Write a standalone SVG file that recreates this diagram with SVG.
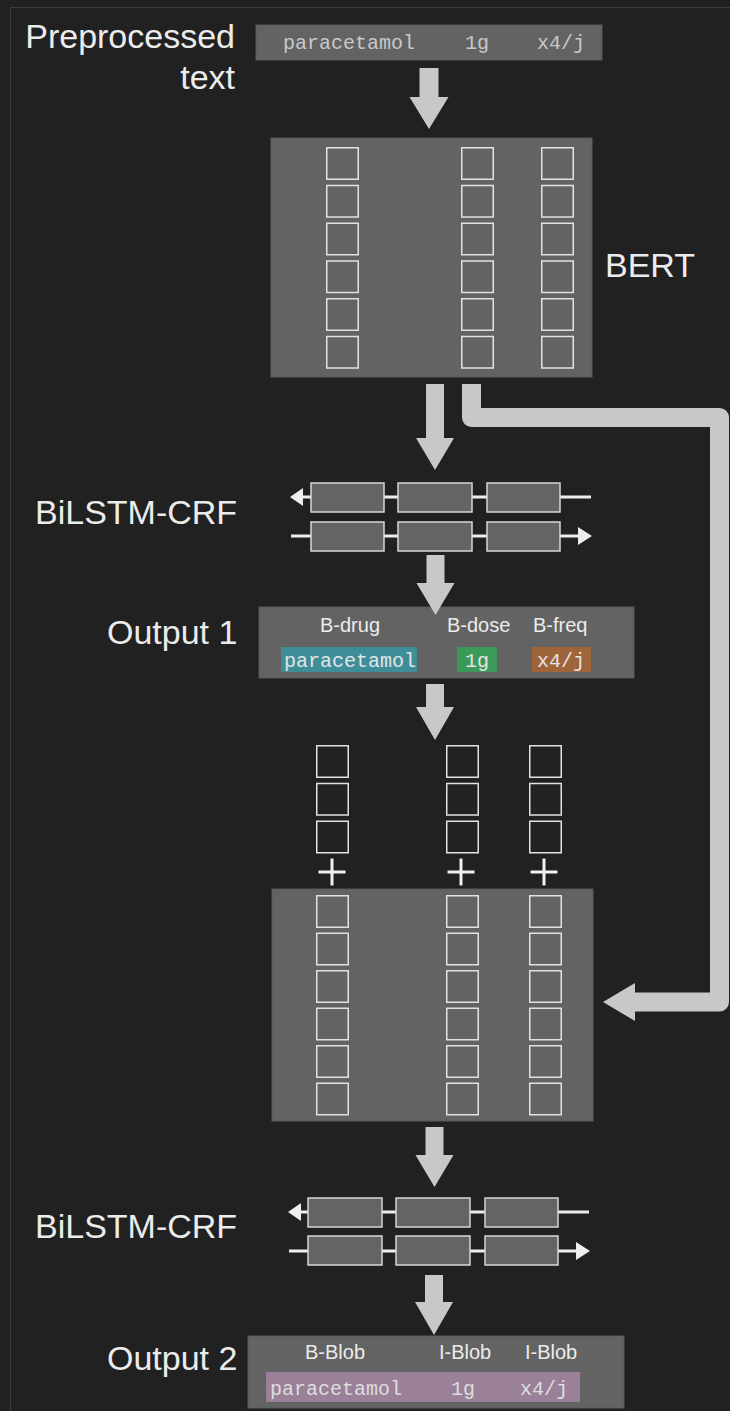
<svg xmlns="http://www.w3.org/2000/svg" width="730" height="1411" viewBox="0 0 730 1411">
<style>
.big{font-family:"Liberation Sans",Arial,sans-serif;font-size:34px;fill:#ececec}
.lab{font-family:"Liberation Sans",Arial,sans-serif;font-size:20px;fill:#ececec}
.mono{font-family:"Liberation Mono","Courier New",monospace;font-size:20px;fill:#e4e4e4}
.box{fill:#636363;stroke:#5a5a5a;stroke-width:1}
.sq{fill:none;stroke:#e2e2e2;stroke-width:1.5}
.sqd{fill:#222222;stroke:#e2e2e2;stroke-width:1.5}
.cell{fill:#646464;stroke:#d6d6d6;stroke-width:1.5}
.wire{stroke:#eeeeee;stroke-width:3;fill:none}
.head{fill:#eeeeee}
.arr{fill:#c8c8c8}
.plus{stroke:#f0f0f0;stroke-width:3;fill:none}
</style>
<defs>
<rect id="s" class="sq" x="0" y="0" width="31.5" height="31.5"/>
<rect id="sd" class="sqd" x="0" y="0" width="31.5" height="31.5"/>
</defs>
<rect x="0" y="0" width="730" height="1411" fill="#212121"/>
<path d="M10.5,1411 V7.5 H730" fill="none" stroke="#3d3d3d" stroke-width="1"/>

<g id="input">
<text class="big" x="235" y="48" text-anchor="end">Preprocessed</text>
<text class="big" x="235" y="89" text-anchor="end">text</text>
<rect class="box" x="256" y="25" width="346" height="35"/>
<text class="mono" x="283" y="49" style="fill:#c8c8c8">paracetamol</text>
<text class="mono" x="465" y="49" style="fill:#c8c8c8">1g</text>
<text class="mono" x="537" y="49" style="fill:#c8c8c8">x4/j</text>
</g>

<g id="bert">
<rect class="box" x="271" y="138" width="321" height="239"/>
<use href="#s" x="326.75" y="147.75"/><use href="#s" x="326.75" y="185.5"/><use href="#s" x="326.75" y="223.25"/><use href="#s" x="326.75" y="261"/><use href="#s" x="326.75" y="298.75"/><use href="#s" x="326.75" y="336.5"/>
<use href="#s" x="461.75" y="147.75"/><use href="#s" x="461.75" y="185.5"/><use href="#s" x="461.75" y="223.25"/><use href="#s" x="461.75" y="261"/><use href="#s" x="461.75" y="298.75"/><use href="#s" x="461.75" y="336.5"/>
<use href="#s" x="541.75" y="147.75"/><use href="#s" x="541.75" y="185.5"/><use href="#s" x="541.75" y="223.25"/><use href="#s" x="541.75" y="261"/><use href="#s" x="541.75" y="298.75"/><use href="#s" x="541.75" y="336.5"/>
<text class="big" x="605" y="277">BERT</text>
</g>

<g id="bilstm1">
<text class="big" x="35" y="524">BiLSTM-CRF</text>
<line class="wire" x1="300" y1="497" x2="591" y2="497"/>
<polygon class="head" points="290,497 303,488 303,506"/>
<line class="wire" x1="291" y1="536" x2="580" y2="536"/>
<polygon class="head" points="592,536 578,527 578,545"/>
<rect class="cell" x="311" y="483" width="73" height="29"/>
<rect class="cell" x="398" y="483" width="74" height="29"/>
<rect class="cell" x="487" y="483" width="73" height="29"/>
<rect class="cell" x="311" y="522" width="73" height="29"/>
<rect class="cell" x="398" y="522" width="74" height="29"/>
<rect class="cell" x="487" y="522" width="73" height="29"/>
</g>

<g id="output1">
<text class="big" x="107" y="644">Output 1</text>
<rect class="box" x="259" y="607" width="375" height="71"/>
<text class="lab" x="320" y="632">B-drug</text>
<text class="lab" x="447" y="632">B-dose</text>
<text class="lab" x="533" y="632">B-freq</text>
<rect x="281" y="647" width="136" height="25" fill="#3e8e9a"/>
<rect x="457" y="647" width="40" height="25" fill="#3b995a"/>
<rect x="532" y="647" width="59" height="25" fill="#9f6439"/>
<text class="mono" x="284" y="667">paracetamol</text>
<text class="mono" x="465" y="667">1g</text>
<text class="mono" x="537" y="667">x4/j</text>
</g>

<g id="concat">
<use href="#sd" x="316.75" y="745.75"/><use href="#sd" x="316.75" y="783.5"/><use href="#sd" x="316.75" y="821.25"/>
<use href="#sd" x="446.75" y="745.75"/><use href="#sd" x="446.75" y="783.5"/><use href="#sd" x="446.75" y="821.25"/>
<use href="#sd" x="529.75" y="745.75"/><use href="#sd" x="529.75" y="783.5"/><use href="#sd" x="529.75" y="821.25"/>
<path class="plus" d="M318.5,872 H345.5 M332,858.5 V885.5"/>
<path class="plus" d="M447.5,872 H474.5 M461,858.5 V885.5"/>
<path class="plus" d="M530.5,872 H557.5 M544,858.5 V885.5"/>
</g>

<g id="encoder2">
<rect class="box" x="272" y="889" width="321" height="232"/>
<use href="#s" x="316.75" y="895.75"/><use href="#s" x="316.75" y="933.25"/><use href="#s" x="316.75" y="970.75"/><use href="#s" x="316.75" y="1008.25"/><use href="#s" x="316.75" y="1045.75"/><use href="#s" x="316.75" y="1083.25"/>
<use href="#s" x="446.75" y="895.75"/><use href="#s" x="446.75" y="933.25"/><use href="#s" x="446.75" y="970.75"/><use href="#s" x="446.75" y="1008.25"/><use href="#s" x="446.75" y="1045.75"/><use href="#s" x="446.75" y="1083.25"/>
<use href="#s" x="529.75" y="895.75"/><use href="#s" x="529.75" y="933.25"/><use href="#s" x="529.75" y="970.75"/><use href="#s" x="529.75" y="1008.25"/><use href="#s" x="529.75" y="1045.75"/><use href="#s" x="529.75" y="1083.25"/>
</g>

<g id="bilstm2">
<text class="big" x="35" y="1238">BiLSTM-CRF</text>
<line class="wire" x1="298" y1="1212" x2="589" y2="1212"/>
<polygon class="head" points="288,1212 301,1203 301,1221"/>
<line class="wire" x1="289" y1="1251" x2="578" y2="1251"/>
<polygon class="head" points="590,1251 576,1242 576,1260"/>
<rect class="cell" x="308" y="1198" width="74" height="29"/>
<rect class="cell" x="396" y="1198" width="74" height="29"/>
<rect class="cell" x="485" y="1198" width="73" height="29"/>
<rect class="cell" x="308" y="1236" width="74" height="29"/>
<rect class="cell" x="396" y="1236" width="74" height="29"/>
<rect class="cell" x="485" y="1236" width="73" height="29"/>
</g>

<g id="output2">
<text class="big" x="107" y="1370">Output 2</text>
<rect class="box" x="248" y="1336" width="376" height="72"/>
<text class="lab" x="305" y="1359">B-Blob</text>
<text class="lab" x="439" y="1359">I-Blob</text>
<text class="lab" x="525" y="1359">I-Blob</text>
<rect x="266" y="1372" width="314" height="30" fill="#9a8098"/>
<text class="mono" x="270" y="1395" style="fill:#dedede">paracetamol</text>
<text class="mono" x="451" y="1395" style="fill:#dedede">1g</text>
<text class="mono" x="520" y="1395" style="fill:#dedede">x4/j</text>
</g>

<g id="connectors">
<path class="arr" d="M419.5,68 H438.5 V97 H448.5 L429,129 L409.5,97 H419.5 Z"/>
<path class="arr" d="M426,384 H444 V438 H454 L435,470 L416,438 H426 Z"/>
<path class="arr" d="M426.5,555 H444.5 V583 H454.5 L435.5,615 L416.5,583 H426.5 Z"/>
<path class="arr" d="M426,684 H444 V707 H454 L435,740 L416,707 H426 Z"/>
<path class="arr" d="M425.5,1127 H443.5 V1155 H453.5 L434.5,1187 L415.5,1155 H425.5 Z"/>
<path class="arr" d="M425,1275 H443 V1302 H453 L434,1335 L415,1302 H425 Z"/>
<path d="M471.5,384 V417.5 H719.5 V1002 H633" fill="none" stroke="#c8c8c8" stroke-width="19" stroke-linejoin="round"/>
<polygon class="arr" points="603,1002 635,983 635,1021"/>
</g>
</svg>
